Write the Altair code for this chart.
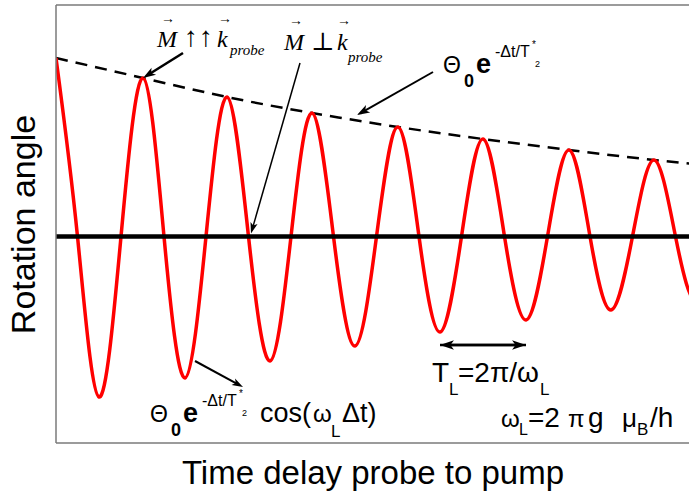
import math
import altair as alt
import pandas as pd

# Precession signal read as extrema and zero nodes (time and angle in arbitrary units)
peak_t = [0, 87, 171, 256, 342, 427, 513, 598, 684]
peak_v = [178.5, 158.5, 139.5, 123.5, 109.5, 97.5, 86.5, 76.5, 68.0]
trough_t = [43, 129, 214, 299, 384, 470, 555, 641]
trough_v = [-160.5, -141.5, -124.5, -109.5, -95.5, -83.5, -73.5, -65.0]
node_t = [21.5, 65, 108, 150, 192.5, 235, 277.5, 320.5, 363, 405.5,
          448.5, 491.5, 534, 576.5, 619.5, 662.5]

T_MAX = 633
V_MIN, V_MAX = -206.5, 231.5
W, H = 633, 438

signal = pd.DataFrame({
    "t": peak_t + trough_t + node_t,
    "v": peak_v + trough_v + [0.0] * len(node_t),
}).sort_values("t").reset_index(drop=True)

envelope = pd.DataFrame({"t": peak_t, "v": peak_v})

xs = alt.Scale(domain=[0, T_MAX], nice=False, zero=False)
ys = alt.Scale(domain=[V_MIN, V_MAX], nice=False, zero=False)

x_axis = alt.Axis(title="Time delay probe to pump", labels=False, ticks=False,
                  domain=False, grid=False, titleFont="Liberation Sans",
                  titleFontSize=33, titleFontWeight="normal", titleColor="black",
                  titlePadding=14)
y_axis = alt.Axis(title="Rotation angle", labels=False, ticks=False,
                  domain=False, grid=False, titleFont="Liberation Sans",
                  titleFontSize=34, titleFontWeight="normal", titleColor="black",
                  titlePadding=15)


def X(field="t"):
    return alt.X(field, type="quantitative", scale=xs, axis=x_axis)


def Y(field="v"):
    return alt.Y(field, type="quantitative", scale=ys, axis=y_axis)


# Frame on left, top and bottom (the right side runs off the page)
def frame_rule(**enc):
    return alt.Chart(pd.DataFrame({"k": [0]})).mark_rule(
        color="#7a7a7a", strokeWidth=1.5
    ).encode(**enc)


frame_left = frame_rule(x=alt.value(0), y=alt.value(0), y2=alt.value(H))
frame_top = frame_rule(x=alt.value(0), x2=alt.value(W + 2), y=alt.value(0))
frame_bottom = frame_rule(x=alt.value(0), x2=alt.value(W + 2), y=alt.value(H))

env_line = alt.Chart(envelope).mark_line(
    color="black", strokeWidth=2.5, strokeDash=[12, 8], interpolate="natural", clip=True
).encode(x=X(), y=Y())

sig_line = alt.Chart(signal).mark_line(
    color="#ff0000", strokeWidth=3.5, interpolate="natural", clip=True
).encode(x=X(), y=Y(), order="t:Q")

zero_line = alt.Chart(pd.DataFrame({"v": [0.0]})).mark_rule(
    color="black", strokeWidth=4.5
).encode(y=Y())

# Annotation arrows: (start t, start v, tip t, tip v, shaft width, head size)
arrows = [
    (127, 183.5, peak_t[1], peak_v[1], 2.5, 200),
    (244, 173.5, 195, 3.0, 1.5, 150),
    (377, 164.5, 301, 121.5, 2.0, 200),
    (139, -124.5, 187, -150.5, 2.0, 150),
    (trough_t[5], -108.5, trough_t[4], -108.5, 2.5, 240),
    (trough_t[4], -108.5, trough_t[5], -108.5, 2.5, 240),
]
HEAD = "M0,-1L0.6,0.8L0,0.35L-0.6,0.8Z"
shaft_rows, head_rows = [], []
for t1, v1, t2, v2, sw, size in arrows:
    dt, dv = t2 - t1, v2 - v1
    length = math.hypot(dt, dv)
    ut, uv = dt / length, dv / length
    r = math.sqrt(size) / 2
    ct, cv = t2 - r * ut, v2 - r * uv
    ang = math.degrees(math.atan2(dt, dv)) % 360
    shaft_rows.append({"t": t1, "v": v1, "t2": ct, "v2": cv, "sw": sw})
    head_rows.append({"t": ct, "v": cv, "ang": ang, "size": size})

shafts = alt.Chart(pd.DataFrame(shaft_rows)).mark_rule(color="black").encode(
    x=X(), y=Y(), x2="t2:Q", y2="v2:Q", strokeWidth=alt.StrokeWidth("sw:Q", scale=None)
)
heads = alt.Chart(pd.DataFrame(head_rows)).mark_point(
    shape=HEAD, filled=True, color="black", opacity=1
).encode(
    x=X(), y=Y(), angle=alt.Angle("ang:Q", scale=None), size=alt.Size("size:Q", scale=None)
)

# Text pieces: (text, t, v, font size, style key)
texts = []


def envelope_formula(t0, v0):
    parts = [("Θ", 0, 0, 23, "sans"), ("0", 21, -14, 18, "sansb"), ("e", 33, 0, 27, "sansb"),
             ("-Δt/T", 52, 16, 16, "sans"), ("*", 89, 25, 10, "sans"), ("2", 92, 6, 9, "sans")]
    for txt, dt, dv, fs, key in parts:
        texts.append((txt, t0 + dt, v0 + dv, fs, key))


envelope_formula(387, 163.5)
envelope_formula(94, -185.5)
texts += [
    ("cos(", 204, -185.5, 27, "sans"), ("ω", 257, -185.5, 24, "sans"),
    ("L", 275, -200.5, 17, "sans"), ("Δt)", 286, -185.5, 27, "sans"),
    ("T", 376, -145.5, 28, "sans"), ("L", 393, -158.5, 17, "sans"),
    ("=2π/ω", 402, -145.5, 28, "sans"), ("L", 484, -158.5, 17, "sans"),
    ("ω", 445, -190.5, 24, "sans"), ("L", 463, -198.5, 16, "sans"),
    ("=2", 472, -190.5, 28, "sans"), ("π", 512, -190.5, 24, "sans"),
    ("g", 532, -190.5, 28, "sans"), ("μ", 566, -190.5, 26, "sans"),
    ("B", 581, -198.5, 17, "sans"), ("/h", 594, -190.5, 28, "sans"),
    ("M", 101, 189.5, 24, "serifi"),
    ("k", 161, 189.5, 24, "serifi"), ("probe", 174, 181.5, 15, "serifi"),
    ("M", 228, 186.5, 24, "serifi"), ("⊥", 255, 186.5, 25, "serif"),
    ("k", 281, 186.5, 24, "serifi"), ("probe", 292, 174.5, 15, "serifi"),
    ("↑", 135, 191.0, 28, "vec"), ("↑", 150, 191.0, 28, "vec"),
    ("→", 112, 213.5, 14, "vec"), ("→", 169, 213.5, 14, "vec"),
    ("→", 240, 211.5, 14, "vec"), ("→", 288, 211.5, 14, "vec"),
]
text_df = pd.DataFrame(texts, columns=["label", "t", "v", "fs", "key"])

styles = {
    "sans": dict(font="Liberation Sans", fontWeight="normal", align="left"),
    "sansb": dict(font="Liberation Sans", fontWeight="bold", align="left"),
    "serif": dict(font="Liberation Serif, DejaVu Serif", fontWeight="normal", align="left"),
    "serifi": dict(font="Liberation Serif", fontStyle="italic", fontWeight="normal", align="left"),
    "vec": dict(font="Liberation Serif, DejaVu Serif", fontWeight="normal", align="center"),
}
text_layers = []
for key, st in styles.items():
    sub = text_df[text_df["key"] == key]
    text_layers.append(
        alt.Chart(sub).mark_text(baseline="alphabetic", color="black", **st).encode(
            x=X(), y=Y(), text="label:N", size=alt.Size("fs:Q", scale=None)
        )
    )

chart = alt.layer(
    env_line, sig_line, zero_line, shafts, heads,
    frame_left, frame_top, frame_bottom, *text_layers
).properties(
    width=W, height=H,
    padding={"left": 56, "top": 5, "right": 0, "bottom": 51},
    autosize=alt.AutoSizeParams(type="none"),
).configure_view(strokeWidth=0)

chart.save("out.html", embed_options={"renderer": "svg", "actions": False})
